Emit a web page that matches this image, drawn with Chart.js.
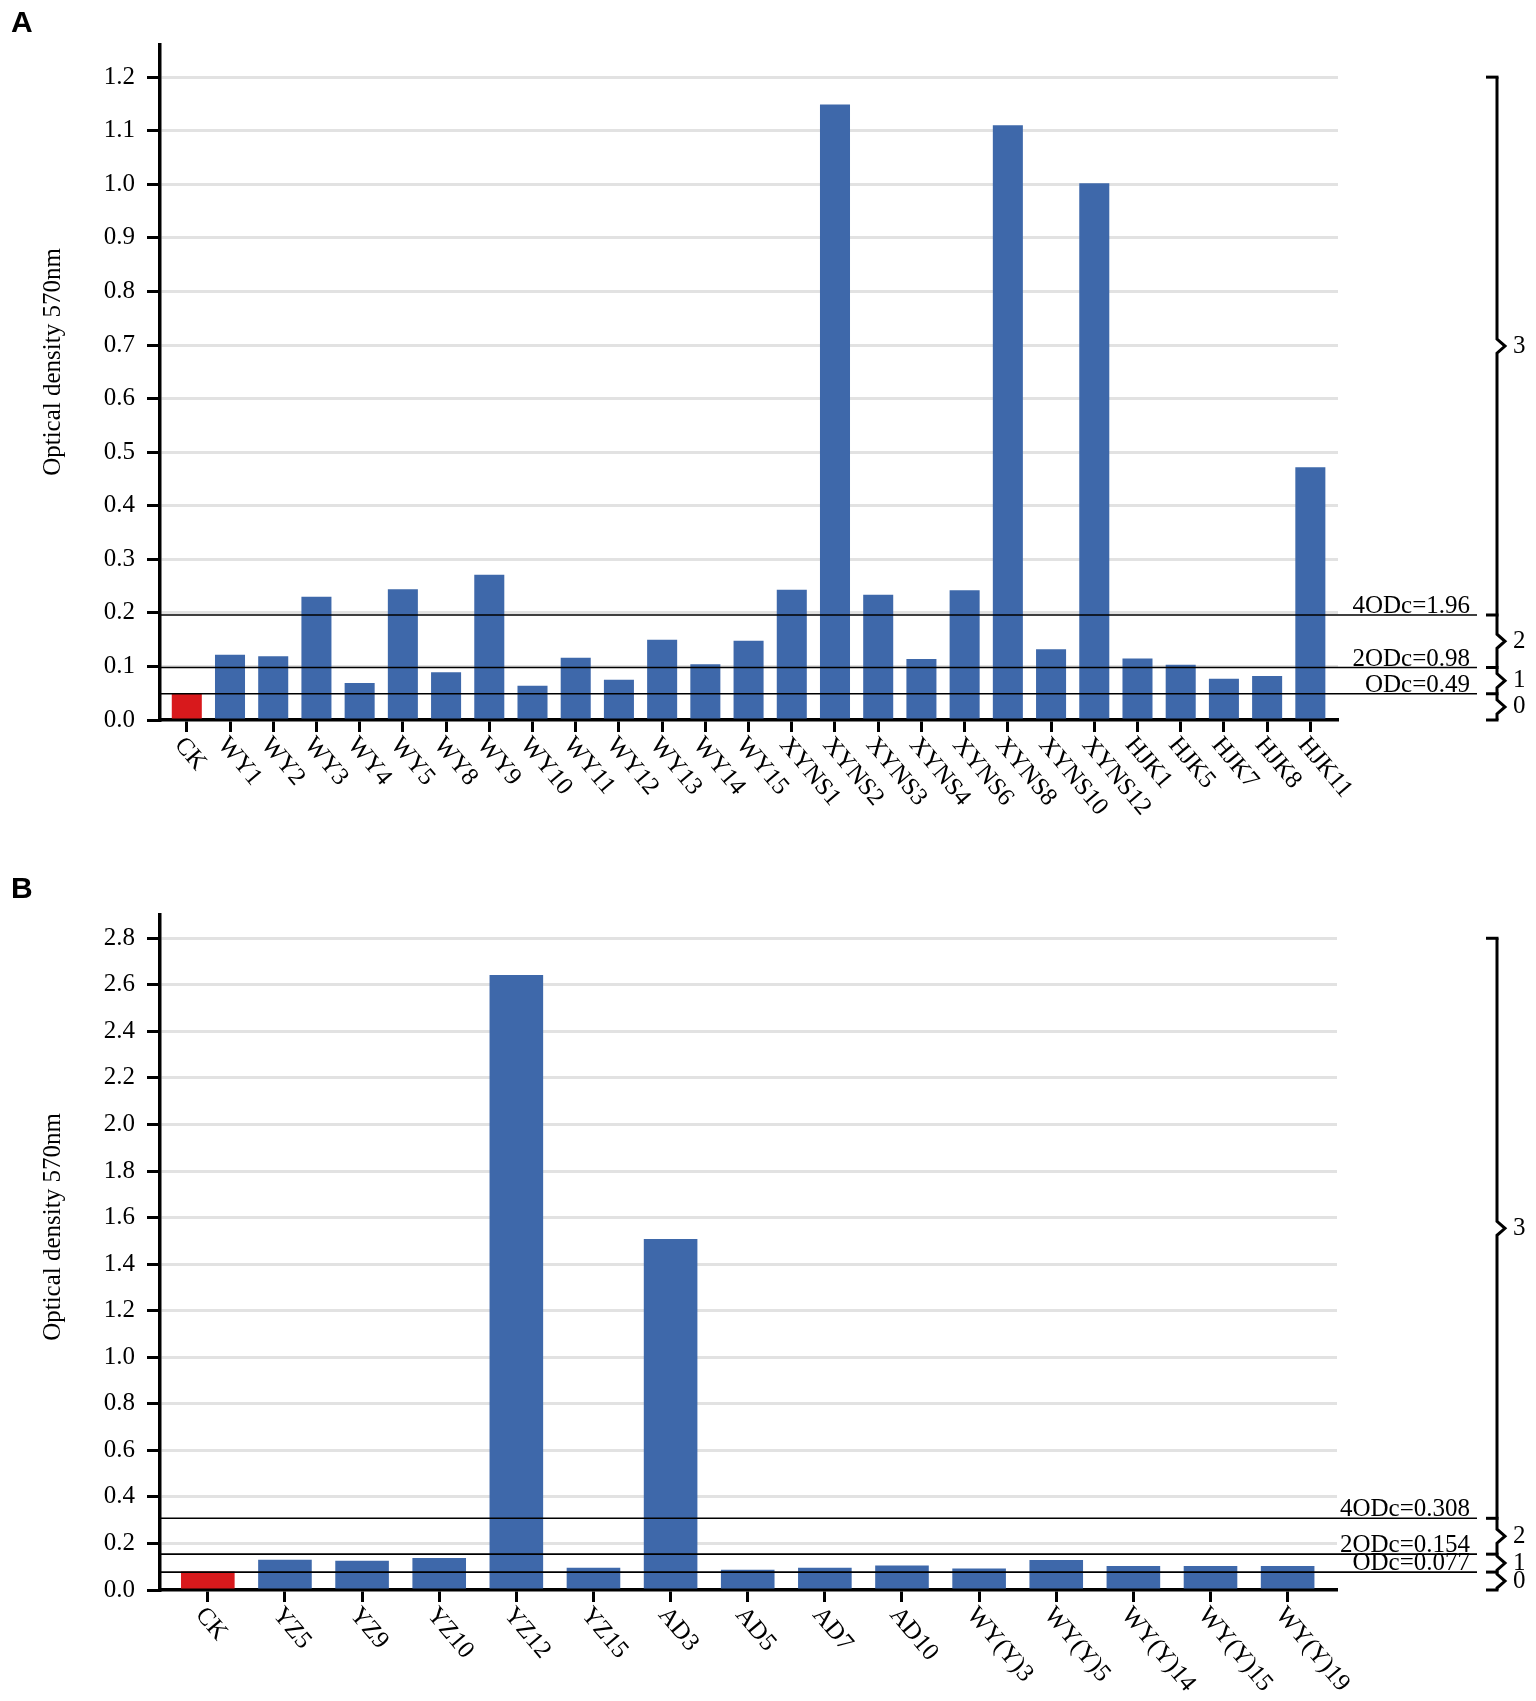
<!DOCTYPE html>
<html><head><meta charset="utf-8">
<script src="https://cdn.jsdelivr.net/npm/chart.js@4.4.1/dist/chart.umd.min.js"></script>
<style>
html,body{margin:0;padding:0;background:#fff;}
#wrap{position:relative;width:1536px;height:1701px;background:#fff;}
canvas{position:absolute;left:0;}
#cA{top:0;}
#cB{top:850px;}
</style></head><body>
<div id="wrap">
<canvas id="cA" width="1536" height="850"></canvas>
<canvas id="cB" width="1536" height="851"></canvas>
</div>
<script>
// ---------- data ----------
const categoriesA = ['CK','WY1','WY2','WY3','WY4','WY5','WY8','WY9','WY10','WY11','WY12','WY13','WY14','WY15',
  'XYNS1','XYNS2','XYNS3','XYNS4','XYNS6','XYNS8','XYNS10','XYNS12','HJK1','HJK5','HJK7','HJK8','HJK11'];
const valuesA = [0.050,0.122,0.119,0.230,0.069,0.244,0.089,0.271,0.064,0.116,0.075,0.150,0.104,0.148,
  0.243,1.149,0.234,0.114,0.242,1.110,0.132,1.002,0.115,0.103,0.077,0.082,0.472];
const thresholdsA = [0.196, 0.098, 0.049];
const thresholdLabelsA = ['4ODc=1.96','2ODc=0.98','ODc=0.49'];
const bracketTopA = 1.2;
const yMaxA = 1.26;
const yStepA = 0.1;

const categoriesB = ['CK','YZ5','YZ9','YZ10','YZ12','YZ15','AD3','AD5','AD7','AD10','WY(Y)3','WY(Y)5','WY(Y)14','WY(Y)15','WY(Y)19'];
const valuesB = [0.079,0.130,0.126,0.138,2.642,0.096,1.508,0.087,0.096,0.105,0.092,0.129,0.103,0.103,0.103];
const thresholdsB = [0.308, 0.154, 0.077];
const thresholdLabelsB = ['4ODc=0.308','2ODc=0.154','ODc=0.077'];
const bracketTopB = 2.8;
const yMaxB = 2.9;
const yStepB = 0.2;

const classLabels = ['3','2','1','0'];
const yTitle = 'Optical density 570nm';
const panelLetters = ['A','B'];

// ---------- style ----------
const BLUE = '#3e68aa';
const RED = '#d8191c';
const SERIF = '"Liberation Serif", "Times New Roman", serif';
Chart.defaults.font.family = SERIF;
Chart.defaults.color = '#000';

const annotPlugin = {
  id: 'annot',
  afterDraw(chart, args, o) {
    const {ctx, chartArea, scales} = chart;
    const x = scales.x, y = scales.y;
    ctx.save();
    ctx.fillStyle = '#000';
    ctx.strokeStyle = '#000';
    // panel letter
    ctx.font = 'bold 30px "Liberation Sans", Arial, sans-serif';
    ctx.textAlign = 'left';
    ctx.textBaseline = 'alphabetic';
    ctx.fillText(o.letter, 11, o.letterY);
    // y title
    ctx.save();
    ctx.translate(53, o.titleY);
    ctx.rotate(-Math.PI / 2);
    ctx.font = '25px ' + SERIF;
    ctx.textAlign = 'center';
    ctx.textBaseline = 'middle';
    ctx.fillText(yTitle, 0, 0);
    ctx.restore();
    // x labels (rotated clockwise)
    const ang = 50 * Math.PI / 180;
    ctx.font = '25px ' + SERIF;
    ctx.textAlign = 'left';
    ctx.textBaseline = 'alphabetic';
    o.cats.forEach((c, i) => {
      const px = x.getPixelForValue(i);
      ctx.save();
      ctx.translate(px - 13, chartArea.bottom + 25);
      ctx.rotate(ang);
      ctx.fillText(c, 0, 0);
      ctx.restore();
    });
    // threshold lines
    ctx.lineWidth = 1.6;
    ctx.font = '25px ' + SERIF;
    ctx.textAlign = 'right';
    o.thresholds.forEach((t, i) => {
      const yy = y.getPixelForValue(t);
      ctx.beginPath();
      ctx.moveTo(chartArea.left, yy);
      ctx.lineTo(1477, yy);
      ctx.stroke();
      ctx.fillText(o.thresholdLabels[i], 1470, yy - 2);
    });
    // bracket
    const bx = 1497;
    const bounds = [o.bracketTop, ...o.thresholds, 0].map(v => y.getPixelForValue(v));
    ctx.lineWidth = 3;
    ctx.lineJoin = 'miter';
    ctx.textAlign = 'left';
    ctx.textBaseline = 'middle';
    bounds.forEach(b => {
      ctx.beginPath();
      ctx.moveTo(bx - 11, b);
      ctx.lineTo(bx + 1.5, b);
      ctx.stroke();
    });
    for (let s = 0; s < bounds.length - 1; s++) {
      const t = bounds[s], bt = bounds[s + 1];
      const m = (t + bt) / 2;
      const k = Math.min(7, (bt - t) / 2 - 2);
      ctx.beginPath();
      ctx.moveTo(bx, t);
      ctx.lineTo(bx, m - k);
      ctx.lineTo(bx + 8, m);
      ctx.lineTo(bx, m + k);
      ctx.lineTo(bx, bt);
      ctx.stroke();
      ctx.fillText(classLabels[s], 1513, m);
    }
    ctx.restore();
  }
};

function makeChart(id, cats, vals, yMax, yStep, xHeight, topPad, rightPad, annot) {
  const data = cats.map((c, i) => ({x: i, y: vals[i]}));
  return new Chart(document.getElementById(id), {
    type: 'bar',
    data: {
      datasets: [{
        data: data,
        backgroundColor: cats.map(c => c === 'CK' ? RED : BLUE),
        borderWidth: 0,
        categoryPercentage: 1.0,
        barPercentage: 0.695
      }]
    },
    options: {
      responsive: false,
      animation: false,
      events: [],
      layout: {padding: {left: 0, right: rightPad, top: topPad, bottom: 0}},
      plugins: {legend: {display: false}, tooltip: {enabled: false}, annot: annot},
      scales: {
        x: {
          type: 'linear',
          min: -0.62,
          max: cats.length - 1 + 0.64,
          offset: false,
          afterBuildTicks: s => { s.ticks = cats.map((c, i) => ({value: i})); },
          afterFit: s => { s.height = xHeight; },
          ticks: {display: false},
          grid: {offset: false, drawOnChartArea: false, drawTicks: true, tickLength: 12,
                 tickColor: '#000', tickWidth: 3, color: '#000'},
          border: {display: true, color: '#000', width: 3.5}
        },
        y: {
          min: 0,
          max: yMax,
          afterFit: s => { s.width = 160; },
          ticks: {stepSize: yStep, includeBounds: false, padding: 12,
                  font: {size: 25, family: SERIF}, color: '#000',
                  callback: v => Number(v).toFixed(1)},
          grid: {color: c => (c.tick && Math.abs(c.tick.value) < 1e-9) ? 'rgba(0,0,0,0)' : '#e2e2e2',
                 lineWidth: 3, tickColor: '#000', tickWidth: 3, tickLength: 13},
          border: {display: true, color: '#000', width: 3.5}
        }
      }
    },
    plugins: [annotPlugin]
  });
}

makeChart('cA', categoriesA, valuesA, yMaxA, yStepA, 130, 45, 198, {
  letter: panelLetters[0], letterY: 32, titleY: 362, cats: categoriesA,
  thresholds: thresholdsA, thresholdLabels: thresholdLabelsA, bracketTop: bracketTopA
});
makeChart('cB', categoriesB, valuesB, yMaxB, yStepB, 111, 65, 199, {
  letter: panelLetters[1], letterY: 48, titleY: 377, cats: categoriesB,
  thresholds: thresholdsB, thresholdLabels: thresholdLabelsB, bracketTop: bracketTopB
});
</script>
</body></html>
